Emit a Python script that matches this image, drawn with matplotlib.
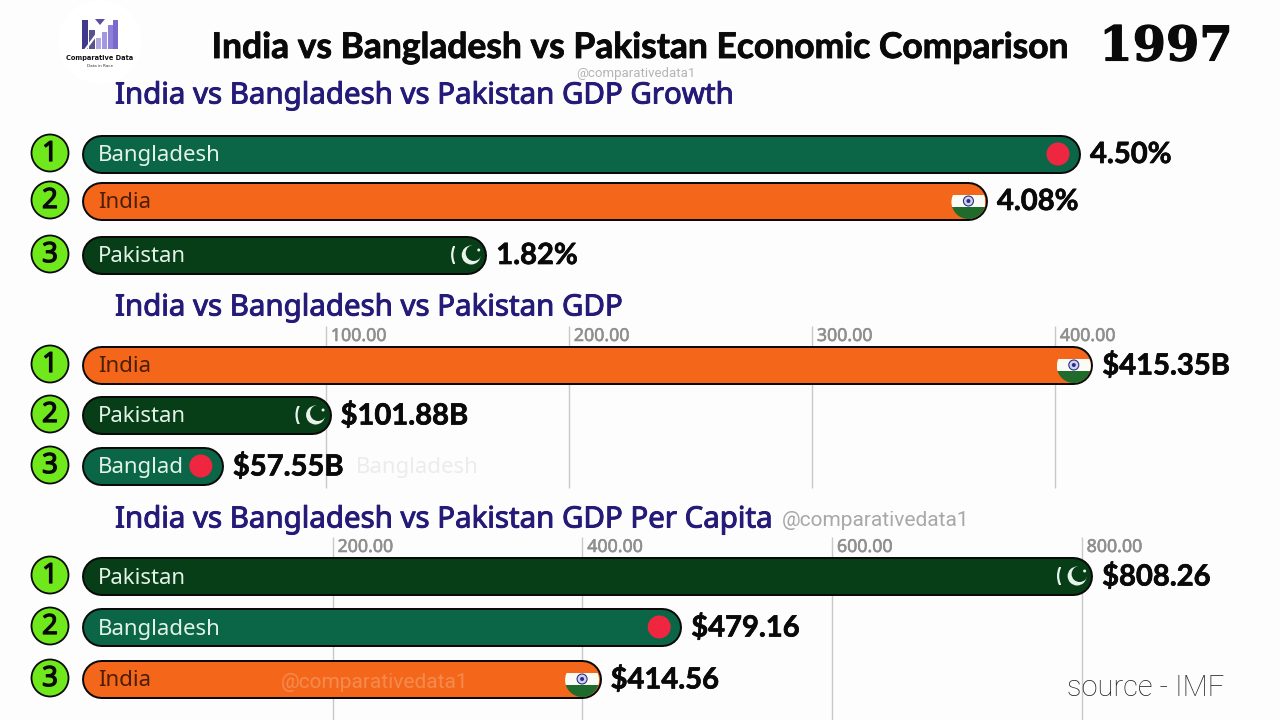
import matplotlib
matplotlib.use("Agg")
import matplotlib.pyplot as plt
import matplotlib.patheffects as pe
from matplotlib.patches import Circle, Rectangle, Polygon

TITLE = "India vs Bangladesh vs Pakistan Economic Comparison"
YEAR = "1997"
HANDLE = "@comparativedata1"

growth_names = ["Bangladesh", "India", "Pakistan"]
growth_values = [4.50, 4.08, 1.82]
growth_labels = ["4.50%", "4.08%", "1.82%"]

gdp_names = ["India", "Pakistan", "Bangladesh"]
gdp_values = [415.35, 101.88, 57.55]
gdp_labels = ["$415.35B", "$101.88B", "$57.55B"]
gdp_ticks = [100, 200, 300, 400]

capita_names = ["Pakistan", "Bangladesh", "India"]
capita_values = [808.26, 479.16, 414.56]
capita_labels = ["$808.26", "$479.16", "$414.56"]
capita_ticks = [200, 400, 600, 800]

BG = "#fdfdfd"
NAVY = "#241a78"
bar_colors = {"Bangladesh": "#0b6647", "India": "#f4671b", "Pakistan": "#073d17"}
name_colors = {"Bangladesh": "#e4f3ea", "India": "#4a1f05", "Pakistan": "#e4f3ea"}

X0 = 83
BAR_H = 38
PX = 0.72  # points per pixel at dpi 100

fig = plt.figure(figsize=(12.8, 7.2), dpi=100, facecolor=BG)


def heavy(width, color):
    return [pe.withStroke(linewidth=width, foreground=color)]


def panel_axes(scale):
    # x in data units, y in image pixels
    ax = fig.add_axes([0, 0, 1, 1])
    ax.set_xlim(-X0 / scale, (1280 - X0) / scale)
    ax.set_ylim(720, 0)
    ax.axis("off")
    return ax


def india_flag(ov, cx, cy):
    clip = Circle((cx, cy + 1), 17, transform=ov.transData)
    band = Rectangle((cx - 17, cy - 6), 34, 12, fc="#fbfbf6", ec="none", zorder=4)
    green = Rectangle((cx - 17, cy + 6), 34, 13, fc="#1f6b2c", ec="none", zorder=4)
    for p in (band, green):
        ov.add_patch(p)
        p.set_clip_path(clip)
    ov.add_patch(Circle((cx, cy), 5, fc="#cfd2ee", ec="#2c2f86", lw=0.8, zorder=5))
    ov.add_patch(Circle((cx, cy), 2, fc="#2c2f86", ec="none", zorder=6))


def pakistan_flag(ov, cx, cy):
    stripe = Circle((cx + 2, cy), 21, fc="none", ec="#e8f3ea", lw=1.6, zorder=4)
    ov.add_patch(stripe)
    stripe.set_clip_path(Rectangle((cx - 24, cy - 9), 8, 18, transform=ov.transData))
    ov.add_patch(Circle((cx, cy), 9.5, fc="#e8f3ea", ec="none", zorder=4))
    ov.add_patch(Circle((cx + 2.5, cy - 2), 8, fc=bar_colors["Pakistan"], ec="none", zorder=5))
    ov.add_patch(Circle((cx + 7.5, cy - 5), 1.5, fc="#e8f3ea", ec="none", zorder=6))


def draw_bars(ax, ov, tops, names, values, labels):
    for rank, (top, name, val, lab) in enumerate(zip(tops, names, values, labels), 1):
        end = ax.transData.transform((val, 0))[0]
        cy = top + BAR_H / 2
        r = BAR_H / 2
        # round caps give the pill shape
        ov.plot([X0 + r - 1.5, end - r], [cy, cy], color="#0a0a0a", lw=(BAR_H + 1) * PX,
                solid_capstyle="round", zorder=2)
        ov.plot([X0 + r - 1.5, end - r], [cy, cy], color=bar_colors[name], lw=(BAR_H - 3) * PX,
                solid_capstyle="round", zorder=2.1)

        ov.add_patch(Circle((50, cy - 1), 18.5, fc="#6fe81c", ec="#0a0a0a", lw=1.3, zorder=2))
        ov.text(50, cy, str(rank), ha="center", va="center", fontsize=20,
                family="Noto Sans", color="#0a0a0a", zorder=3,
                path_effects=heavy(0.9, "#0a0a0a"))

        t = ov.text(98, cy + 2, name, ha="left", va="center", fontsize=16,
                    family="Noto Sans", color=name_colors[name], zorder=3)
        if end - X0 < 150:
            t.set_clip_path(Rectangle((X0, top), end - X0 - 40, BAR_H, transform=ov.transData))
            t.set_clip_on(True)
            ov.text(end + 133, cy + 1, name, ha="left", va="center", fontsize=16,
                    family="Noto Sans", color="#ececec", zorder=1)

        if name == "Bangladesh":
            ov.add_patch(Circle((end - 22, cy), 11.5, fc="#ef2640", ec="none", zorder=4))
        elif name == "India":
            india_flag(ov, end - 18.5, cy)
        else:
            pakistan_flag(ov, end - 15, cy)

        ov.text(end + 10, cy + 1, lab, ha="left", va="center", fontsize=21,
                fontweight="bold", family="Lato", color="#0a0a0a", zorder=5,
                path_effects=heavy(0.5, "#0a0a0a"))


def draw_grid(ax, ticks, y0, y1):
    ax.vlines(ticks, y0, y1, color="#c9c9c9", lw=1.0)
    for tk in ticks:
        ax.annotate(f"{tk:.2f}", (tk, y0 + 10), xytext=(3.5, 0), textcoords="offset points",
                    ha="left", va="center", fontsize=12.8, color="#8f8f8f",
                    family="Noto Sans", path_effects=heavy(0.4, "#8f8f8f"))


ax1 = panel_axes(997 / 4.5)
ax2 = panel_axes(243.0 / 100)
ax3 = panel_axes(249.7 / 200)
draw_grid(ax2, gdp_ticks, 326, 488)
draw_grid(ax3, capita_ticks, 537, 720)

ov = fig.add_axes([0, 0, 1, 1])
ov.set_xlim(0, 1280)
ov.set_ylim(720, 0)
ov.axis("off")

draw_bars(ax1, ov, [135, 182, 236], growth_names, growth_values, growth_labels)
draw_bars(ax2, ov, [346, 396, 447], gdp_names, gdp_values, gdp_labels)
draw_bars(ax3, ov, [557, 608, 660], capita_names, capita_values, capita_labels)

# headings
ov.text(640, 48, TITLE, ha="center", va="center", fontsize=25.5, fontweight="bold",
        family="Lato", color="#0a0a0a", path_effects=heavy(0.6, "#0a0a0a"))
ov.text(1166, 47, YEAR, ha="center", va="center", fontsize=34.5, fontweight="bold",
        family="DejaVu Serif", color="#0a0a0a", path_effects=heavy(0.8, "#0a0a0a"))
for y, s in [(96, "India vs Bangladesh vs Pakistan GDP Growth"),
             (308, "India vs Bangladesh vs Pakistan GDP"),
             (520, "India vs Bangladesh vs Pakistan GDP Per Capita")]:
    ov.text(115, y, s, ha="left", va="center", fontsize=21.2, family="Noto Sans",
            color=NAVY, path_effects=heavy(0.7, NAVY))

# watermarks and source
ov.text(636, 73, HANDLE, ha="center", va="center", fontsize=9.5, color="#b5b5b5", family="Roboto")
ov.text(876, 521, HANDLE, ha="center", va="center", fontsize=15, color="#a8a8a8", family="Roboto")
ov.text(375, 683, HANDLE, ha="center", va="center", fontsize=15, color="#f58a4e",
        family="Roboto", zorder=3)
ov.text(1146, 688, "source - IMF", ha="center", va="center", fontsize=21,
        color="#222222", family="Roboto", fontweight="light")

# logo
ov.add_patch(Circle((100, 42), 42, fc="#ffffff", ec="none", zorder=1))
for x, w, y, c in [(82, 6, 20, "#3f3a8c"), (89, 6, 30, "#5a528f"), (96, 5, 38, "#b0a8de"),
                   (102, 5, 32, "#a396e2"), (108, 5, 25, "#8e7fd8"), (113, 5, 20, "#7a68cc")]:
    ov.add_patch(Rectangle((x, y), w, 49 - y, fc=c, ec="none", zorder=2))
ov.plot([85, 108], [50, 19], color="#ffffff", lw=1.6, zorder=3)
ov.add_patch(Polygon([(95, 19), (105, 19), (100, 25)], fc="#5b4fa3", ec="none", zorder=2))
ov.text(100, 58, "Comparative Data", ha="center", va="center", fontsize=4.8,
        fontweight="bold", family="DejaVu Sans", color="#111111", zorder=2)
ov.text(100, 66, "Data in Race", ha="center", va="center", fontsize=3,
        family="DejaVu Sans", color="#333333", zorder=2)

fig.savefig("out.png", dpi=100, facecolor=BG)
